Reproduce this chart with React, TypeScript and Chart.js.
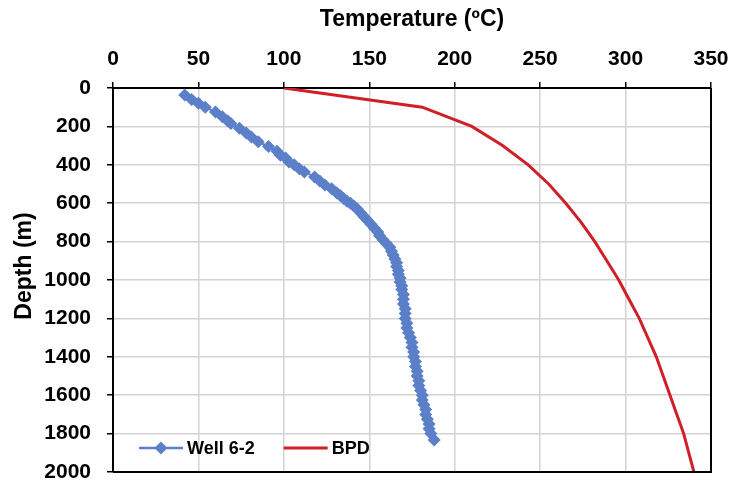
import React, { useEffect, useRef } from "react";
import { Chart, registerables } from "chart.js";

Chart.register(...registerables);

// ---- data ----
const seriesNames = ["Well 6-2", "BPD"];
const xTitle = "Temperature (ºC)";
const yTitle = "Depth (m)";
const tempMin = 0;
const tempMax = 350;
const tempStep = 50;
const depthMin = 0;
const depthMax = 2000;
const depthStep = 200;

const wellDepth = [
  36, 60, 80, 100, 125, 150, 170, 185, 210, 235, 255, 280, 305, 330, 350, 365, 385, 400, 420, 437,
  463, 485, 505, 525, 547, 560, 575, 590, 600, 615, 630, 651, 670, 690, 710, 730, 750, 770, 790, 810,
  830, 850, 870, 890, 910, 930, 950, 970, 990, 1010, 1030, 1050, 1075, 1100, 1125, 1150, 1175, 1200,
  1225, 1250, 1275, 1300, 1325, 1350, 1375, 1400, 1425, 1450, 1475, 1500, 1525, 1550, 1575, 1600,
  1625, 1650, 1675, 1700, 1725, 1750, 1775, 1800, 1833,
];
const wellTemp = [
  42, 46, 50, 54, 60, 64, 67, 69, 74, 78, 81, 85, 91, 96, 98, 101, 103, 106, 109, 112,
  118, 121, 124, 128, 131, 133, 135, 137, 139, 141, 143, 145, 147, 149, 151, 153, 155, 156, 158, 160,
  162, 163, 164, 165, 166, 166, 167, 167, 168, 168, 169, 169, 170, 170, 170, 171, 171, 171,
  172, 172, 173, 174, 175, 175, 176, 176, 177, 177, 178, 178, 179, 179, 180, 181,
  181, 182, 183, 183, 184, 185, 185, 186, 188,
];

const bpdDepth = [0, 100, 200, 300, 400, 500, 600, 700, 800, 900, 1000, 1100, 1200, 1300, 1400, 1500, 1600, 1700, 1800, 1900, 2000];
const bpdTemp = [100, 181, 210, 228, 243, 255, 265, 274, 282, 289, 296, 302, 308, 313, 318, 322, 326, 330, 334, 337, 340];

// ---- style ----
const FONT = "'Liberation Sans', Arial, sans-serif";
const BLUE = "#5b7fc8";
const RED = "#d01f26";
const GRID = "#d3d3d3";

const decorPlugin = {
  id: "decor",
  afterDatasetsDraw(chart: any) {
    const { ctx, chartArea: a } = chart;
    ctx.save();
    ctx.strokeStyle = "#000";
    ctx.lineWidth = 2;
    ctx.beginPath();
    ctx.moveTo(a.right, a.top);
    ctx.lineTo(a.right, a.bottom);
    ctx.lineTo(a.left, a.bottom);
    ctx.stroke();
    ctx.restore();
  },
  afterDraw(chart: any) {
    const { ctx, chartArea: a } = chart;
    ctx.save();
    ctx.fillStyle = "#000";
    ctx.font = `bold 23px ${FONT}`;
    ctx.textAlign = "center";
    ctx.textBaseline = "middle";
    ctx.fillText(xTitle, (a.left + a.right) / 2, 20);
    ctx.save();
    ctx.translate(25, 266);
    ctx.rotate(-Math.PI / 2);
    ctx.fillText(yTitle, 0, 0);
    ctx.restore();

    const ly = a.bottom - 24;
    ctx.font = `bold 18px ${FONT}`;
    ctx.textAlign = "left";
    let x = a.left + 26;
    const ds = chart.data.datasets;
    ds.forEach((d: any, i: number) => {
      ctx.strokeStyle = d.borderColor;
      ctx.lineWidth = i === 0 ? 2.5 : 3;
      ctx.beginPath();
      ctx.moveTo(x, ly);
      ctx.lineTo(x + 44, ly);
      ctx.stroke();
      if (i === 0) {
        ctx.fillStyle = d.backgroundColor;
        const r = 6.5;
        ctx.beginPath();
        ctx.moveTo(x + 22, ly - r);
        ctx.lineTo(x + 22 + r, ly);
        ctx.lineTo(x + 22, ly + r);
        ctx.lineTo(x + 22 - r, ly);
        ctx.closePath();
        ctx.fill();
      }
      ctx.fillStyle = "#000";
      ctx.fillText(d.label, x + 48, ly + 1);
      x += 48 + ctx.measureText(d.label).width + 29;
    });
    ctx.restore();
  },
};

export default function App() {
  const ref = useRef<HTMLCanvasElement>(null);

  useEffect(() => {
    if (!ref.current) return;
    const wellPts = wellDepth.map((d, i) => ({ x: wellTemp[i], y: d }));
    const bpdPts = bpdDepth.map((d, i) => ({ x: bpdTemp[i], y: d }));

    const chart = new Chart(ref.current, {
      type: "scatter",
      data: {
        datasets: [
          {
            label: seriesNames[0],
            data: wellPts,
            showLine: true,
            borderColor: BLUE,
            backgroundColor: BLUE,
            borderWidth: 2,
            pointStyle: "rectRot",
            pointRadius: 6.5,
            pointBorderWidth: 0,
            pointHoverRadius: 6.5,
          },
          {
            label: seriesNames[1],
            data: bpdPts,
            showLine: true,
            borderColor: RED,
            backgroundColor: RED,
            borderWidth: 3,
            pointRadius: 0,
            pointHoverRadius: 0,
            tension: 0,
          },
        ],
      },
      options: {
        animation: false,
        responsive: false,
        layout: { padding: { top: 0, left: 0, right: 20, bottom: 8 } },
        plugins: {
          legend: { display: false },
          tooltip: { enabled: false },
          title: { display: false },
        },
        scales: {
          x: {
            type: "linear",
            position: "top",
            min: tempMin,
            max: tempMax,
            ticks: {
              stepSize: tempStep,
              color: "#000",
              font: { family: FONT, size: 21, weight: "bold" },
              padding: 10,
              callback: (v: any) => String(v),
            },
            grid: { color: GRID, lineWidth: 1.5, tickColor: "#000", tickLength: 6, tickWidth: 1.5 },
            border: { color: "#000", width: 2 },
            afterFit: (s: any) => {
              s.height = 88;
              s.paddingLeft = 0;
              s.paddingRight = 0;
            },
          },
          y: {
            type: "linear",
            reverse: true,
            min: depthMin,
            max: depthMax,
            ticks: {
              stepSize: depthStep,
              color: "#000",
              font: { family: FONT, size: 21, weight: "bold" },
              padding: 16,
              callback: (v: any) => String(v),
            },
            grid: { color: GRID, lineWidth: 1.5, tickColor: "#000", tickLength: 6, tickWidth: 1.5 },
            border: { color: "#000", width: 2 },
            afterFit: (s: any) => {
              s.width = 113;
              s.paddingTop = 0;
              s.paddingBottom = 0;
            },
          },
        },
      },
      plugins: [decorPlugin],
    });
    return () => chart.destroy();
  }, []);

  return (
    <div style={{ position: "fixed", left: 0, top: 0, width: 731, height: 480, background: "#fff" }}>
      <canvas ref={ref} width={731} height={480} style={{ width: 731, height: 480 }} />
    </div>
  );
}
